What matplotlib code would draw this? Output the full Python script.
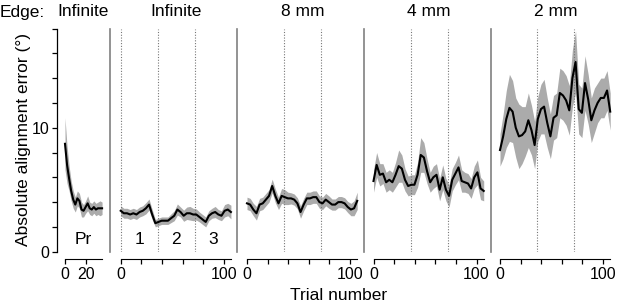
import matplotlib
matplotlib.use("Agg")
import matplotlib.pyplot as plt
import matplotlib.transforms as mtransforms
import numpy as np

plt.rcParams['font.family'] = ['Liberation Sans', 'DejaVu Sans']

# --- data ---
titles = ["Infinite", "Infinite", "8 mm", "4 mm", "2 mm"]
block_labels = ["1", "2", "3"]
block_edges = [36, 72]

pr_trials = np.arange(0, 37, 2)
pr_mean = [8.7, 7.0, 5.9, 4.9, 4.2, 3.8, 4.3, 4.1, 3.4, 3.3,
           3.6, 3.9, 3.5, 3.4, 3.6, 3.4, 3.5, 3.5, 3.5]
pr_err = [2.1, 1.5, 1.0, 0.8, 0.7, 0.6, 0.6, 0.6, 0.6, 0.5,
          0.5, 0.6, 0.5, 0.5, 0.5, 0.5, 0.5, 0.6, 0.5]

trials = np.linspace(0, 107, 36)

inf_mean = [3.3, 3.1, 3.1, 3.0, 3.1, 3.0, 3.2, 3.3, 3.5, 3.8, 3.0, 2.3,
            2.4, 2.5, 2.5, 2.5, 2.7, 2.9, 3.4, 3.2, 2.9, 3.1, 3.1, 3.0,
            3.0, 2.8, 2.6, 2.4, 2.9, 3.1, 3.2, 3.0, 2.9, 3.3, 3.4, 3.2]
inf_err = [0.4, 0.4, 0.4, 0.4, 0.4, 0.4, 0.4, 0.4, 0.45, 0.45, 0.4, 0.3,
           0.3, 0.3, 0.3, 0.3, 0.35, 0.4, 0.45, 0.4, 0.45, 0.5, 0.55, 0.5,
           0.45, 0.4, 0.4, 0.4, 0.4, 0.4, 0.45, 0.4, 0.4, 0.5, 0.5, 0.55]

mm8_mean = [3.9, 3.8, 3.4, 3.1, 3.8, 3.9, 4.2, 4.5, 5.3, 4.5, 3.9, 4.5,
            4.4, 4.3, 4.3, 4.2, 3.9, 3.2, 3.8, 4.3, 4.3, 4.4, 4.4, 4.0,
            3.9, 4.2, 4.0, 3.8, 3.8, 4.0, 4.0, 3.9, 3.6, 3.4, 3.5, 4.1]
mm8_err = [0.5, 0.5, 0.5, 0.55, 0.5, 0.5, 0.5, 0.5, 0.55, 0.55, 0.5, 0.6,
           0.6, 0.5, 0.45, 0.45, 0.45, 0.5, 0.5, 0.5, 0.5, 0.5, 0.5, 0.5,
           0.5, 0.5, 0.5, 0.45, 0.45, 0.45, 0.45, 0.45, 0.45, 0.5, 0.6, 0.7]

mm4_mean = [5.7, 7.0, 6.2, 6.3, 5.6, 5.8, 5.6, 6.2, 6.9, 6.7, 5.8, 5.3,
            5.4, 5.4, 6.2, 7.8, 7.6, 6.5, 5.6, 6.0, 6.2, 5.0, 6.0, 5.0,
            4.5, 5.8, 6.3, 6.8, 5.7, 5.6, 5.5, 5.1, 6.0, 6.4, 5.1, 4.9]
mm4_err = [0.9, 1.0, 0.9, 0.8, 0.8, 0.8, 0.8, 1.0, 1.3, 1.1, 0.9, 0.8,
           0.8, 0.8, 1.0, 1.4, 1.2, 1.0, 0.8, 0.9, 0.9, 0.9, 1.0, 0.9,
           0.9, 0.9, 0.9, 1.0, 0.9, 0.8, 0.8, 0.8, 0.9, 1.0, 0.9, 0.8]

mm2_mean = [8.2, 9.3, 10.7, 11.6, 11.3, 10.0, 9.3, 9.4, 9.7, 10.6, 9.8, 8.6,
            10.7, 11.5, 11.7, 10.4, 9.3, 10.8, 11.0, 12.8, 12.6, 12.2, 11.4, 14.0,
            15.3, 11.5, 11.2, 13.6, 12.3, 10.6, 11.4, 12.0, 12.4, 12.4, 13.0, 11.3]
mm2_err = [1.3, 1.8, 2.3, 2.7, 2.5, 2.4, 2.6, 2.3, 2.0, 2.2, 2.0, 1.9,
           1.8, 2.0, 2.2, 2.0, 1.8, 1.8, 1.8, 2.0, 2.0, 2.0, 2.0, 2.3,
           2.5, 2.0, 2.0, 2.2, 2.0, 1.8, 1.8, 1.6, 1.6, 1.6, 1.6, 1.5]

W, H = 617, 307
fig = plt.figure(figsize=(W / 100, H / 100), dpi=100)

px_per_trial = 1.03
y_top, y_bot = 28.5, 251.7   # pixel rows for y=18 and y=0


def make_axes(left_px, zero_px, right_px):
    ax = fig.add_axes([left_px / W, (H - y_bot) / H,
                       (right_px - left_px) / W, (y_bot - y_top) / H])
    ax.set_xlim((left_px - zero_px) / px_per_trial,
                (right_px - zero_px) / px_per_trial)
    ax.set_ylim(0, 18)
    ax.patch.set_alpha(0)
    ax.spines['top'].set_visible(False)
    ax.spines['right'].set_visible(False)
    ax.spines['bottom'].set_position(('outward', 5.3))
    ax.tick_params(direction='out', length=3.5, width=0.9, labelsize=11.5, pad=2)
    return ax


def draw_series(ax, x, m, e):
    m = np.array(m)
    e = np.array(e)
    ax.fill_between(x, m - e, m + e, color='#ababab', lw=0)
    ax.plot(x, m, color='black', lw=1.5)


text_y = 1 + 16.5 / (y_bot - y_top)

# practice panel
ax0 = make_axes(57, 65, 110)
draw_series(ax0, pr_trials, pr_mean, pr_err)
ax0.spines['left'].set_bounds(0, 18)
ax0.spines['left'].set_linewidth(0.9)
ax0.set_yticks(np.arange(0, 19, 2))
ax0.set_yticklabels(["0", "", "", "", "", "10", "", "", "", ""])
ax0.spines['bottom'].set_bounds(0, 36)
ax0.set_xticks([0, 20])
ax0.set_xticklabels(["0", "20"])
ax0.text(18, 1.0, "Pr", ha='center', va='center', fontsize=12.5)
blend = mtransforms.blended_transform_factory(ax0.transData, ax0.transAxes)
ax0.text(18, text_y, titles[0], ha='center', va='center', fontsize=12.5,
         transform=blend)

# main panels
series = [(inf_mean, inf_err), (mm8_mean, mm8_err),
          (mm4_mean, mm4_err), (mm2_mean, mm2_err)]
lefts = [110, 237, 364, 491]
zeros = [120.7, 247, 373.5, 500]
for i, (m, e) in enumerate(series):
    ax = make_axes(lefts[i], zeros[i], lefts[i] + 127)
    for b in block_edges:
        ax.axvline(b, color='#777777', lw=0.8, ls=(0, (1, 1.5)))
    if i == 0:
        ax.axvline(0, color='#777777', lw=0.8, ls=(0, (1, 1.5)))
        for k, lab in enumerate(block_labels):
            ax.text(18 + 36 * k, 1.0, lab, ha='center', va='center',
                    fontsize=12.5)
    draw_series(ax, trials, m, e)
    ax.spines['left'].set_color('#808080')
    ax.spines['left'].set_linewidth(1.2)
    ax.set_yticks([])
    ax.spines['bottom'].set_bounds(0, 107)
    ax.set_xticks(np.arange(0, 101, 20))
    ax.set_xticklabels(["0", "", "", "", "", "100"])
    blend = mtransforms.blended_transform_factory(ax.transData, ax.transAxes)
    ax.text(54, text_y, titles[i + 1], ha='center', va='center',
            fontsize=12.5, transform=blend)

fig.text(0 / W, 1 - 12 / H, "Edge:", ha='left', va='center', fontsize=12.5)
fig.text(24 / W, 1 - 139 / H, "Absolute alignment error (°)", rotation=90,
         ha='center', va='center', fontsize=12.5)
fig.text(339 / W, 1 - 296 / H, "Trial number", ha='center', va='center',
         fontsize=12.5)

fig.savefig("out.png", dpi=100)
